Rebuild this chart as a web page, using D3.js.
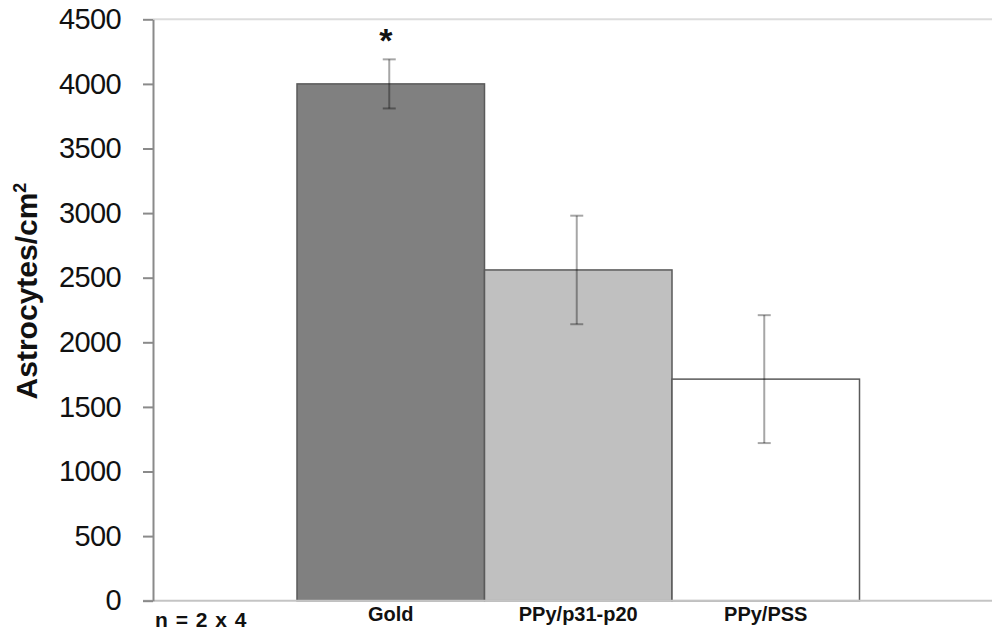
<!DOCTYPE html>
<html>
<head>
<meta charset="utf-8">
<script src="https://cdn.jsdelivr.net/npm/d3@7"></script>
<style>
  body { margin: 0; background: #fff; }
  text { font-family: "Liberation Sans", Arial, sans-serif; }
</style>
</head>
<body>
<div id="chart"></div>
<script>
// data
var categories = ["Gold", "PPy/p31-p20", "PPy/PSS"];
var means = [4000, 2560, 1715];
var errors = [190, 420, 495];
var fills = ["#808080", "#c0c0c0", "#ffffff"];
var yTicks = [0, 500, 1000, 1500, 2000, 2500, 3000, 3500, 4000, 4500];

var width = 992, height = 633;
var margin = {top: 19.3, left: 153, bottom: 32.3};
var plotBottom = height - margin.bottom;

var svg = d3.select("#chart").append("svg")
    .attr("width", width)
    .attr("height", height);

var y = d3.scaleLinear()
    .domain([0, 4500])
    .range([plotBottom, margin.top]);

var x = d3.scaleBand()
    .domain(categories)
    .range([297, 859.5])
    .padding(0);

// top border line
svg.append("line")
    .attr("x1", margin.left).attr("x2", width)
    .attr("y1", y(4500)).attr("y2", y(4500))
    .attr("stroke", "#dcdcdc")
    .attr("stroke-width", 2);

// bars
svg.selectAll(".bar")
    .data(categories)
    .enter().append("rect")
    .attr("class", "bar")
    .attr("x", function(d) { return x(d); })
    .attr("y", function(d, i) { return y(means[i]); })
    .attr("width", x.bandwidth())
    .attr("height", function(d, i) { return y(0) - y(means[i]); })
    .attr("fill", function(d, i) { return fills[i]; })
    .attr("stroke", "#5a5a5a")
    .attr("stroke-width", 1.5);

// x axis line
svg.append("line")
    .attr("x1", margin.left - 10).attr("x2", width)
    .attr("y1", y(0)).attr("y2", y(0))
    .attr("stroke", "#c4c4c4")
    .attr("stroke-width", 2);

// y axis
var yAxis = svg.append("g")
    .attr("transform", "translate(" + margin.left + ",0)")
    .call(d3.axisLeft(y).tickValues(yTicks).tickFormat(d3.format("d"))
        .tickSize(10).tickPadding(22).tickSizeOuter(0));
yAxis.select(".domain").attr("stroke", "#8a8a8a").attr("stroke-width", 2);
yAxis.selectAll(".tick line").attr("stroke", "#8a8a8a").attr("stroke-width", 2);
yAxis.selectAll(".tick text")
    .attr("fill", "#111")
    .style("font-size", "29px")
    .style("letter-spacing", "-0.6px")
    .style("font-family", "'Liberation Sans', Arial, sans-serif");

// error bars
var cap = 6.5;
var err = svg.selectAll(".err")
    .data(categories)
    .enter().append("g")
    .attr("class", "err")
    .attr("stroke", "#000")
    .attr("stroke-opacity", 0.35)
    .attr("stroke-width", 2);
err.append("line")
    .attr("x1", function(d) { return x(d) + x.bandwidth() / 2 - 1.5; })
    .attr("x2", function(d) { return x(d) + x.bandwidth() / 2 - 1.5; })
    .attr("y1", function(d, i) { return y(means[i] + errors[i]); })
    .attr("y2", function(d, i) { return y(means[i] - errors[i]); });
err.append("line")
    .attr("x1", function(d) { return x(d) + x.bandwidth() / 2 - 1.5 - cap; })
    .attr("x2", function(d) { return x(d) + x.bandwidth() / 2 - 1.5 + cap; })
    .attr("y1", function(d, i) { return y(means[i] + errors[i]); })
    .attr("y2", function(d, i) { return y(means[i] + errors[i]); });
err.append("line")
    .attr("x1", function(d) { return x(d) + x.bandwidth() / 2 - 1.5 - cap; })
    .attr("x2", function(d) { return x(d) + x.bandwidth() / 2 - 1.5 + cap; })
    .attr("y1", function(d, i) { return y(means[i] - errors[i]); })
    .attr("y2", function(d, i) { return y(means[i] - errors[i]); });

// significance star on Gold
svg.append("text")
    .attr("x", x("Gold") + x.bandwidth() / 2 - 5)
    .attr("y", 52)
    .attr("text-anchor", "middle")
    .style("font-size", "34px")
    .style("font-weight", "bold")
    .attr("fill", "#111")
    .text("*");

// category labels
svg.selectAll(".xlabel")
    .data(categories)
    .enter().append("text")
    .attr("class", "xlabel")
    .attr("x", function(d) { return x(d) + x.bandwidth() / 2; })
    .attr("y", 621)
    .attr("text-anchor", "middle")
    .style("font-size", "20px")
    .style("font-weight", "bold")
    .attr("fill", "#111")
    .text(function(d) { return d; });

svg.append("text")
    .attr("x", 155)
    .attr("y", 627)
    .style("font-size", "21px")
    .style("font-weight", "bold")
    .style("word-spacing", "2px")
    .attr("fill", "#111")
    .text("n = 2 x 4");

// y axis title
var title = svg.append("text")
    .attr("transform", "translate(37," + 291 + ") rotate(-90)")
    .attr("text-anchor", "middle")
    .style("font-size", "30px")
    .style("font-weight", "bold")
    .attr("fill", "#111");
title.append("tspan").text("Astrocytes/cm");
title.append("tspan")
    .attr("dy", -11)
    .style("font-size", "18px")
    .text("2");
</script>
</body>
</html>
